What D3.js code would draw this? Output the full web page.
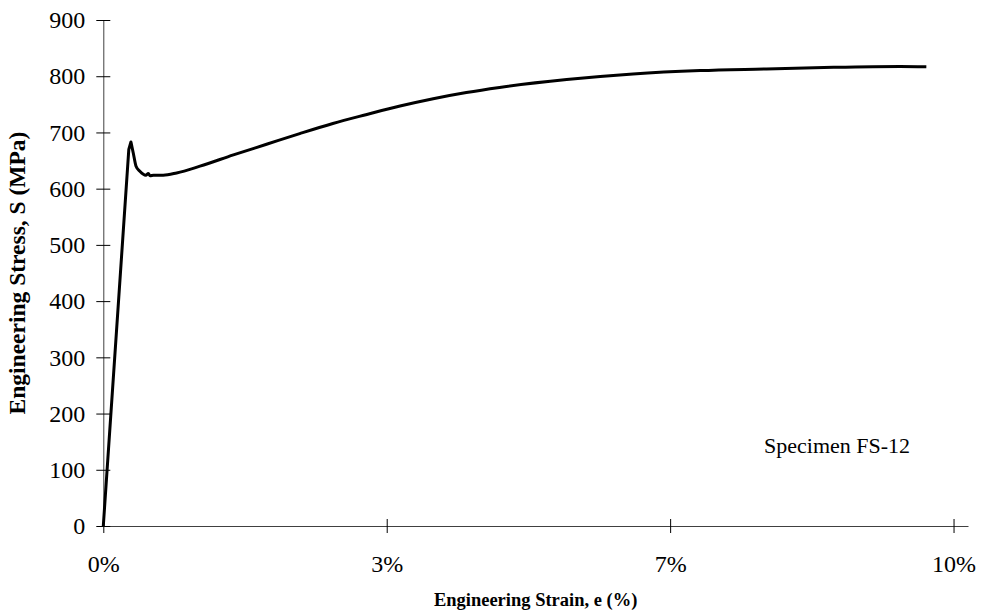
<!DOCTYPE html>
<html>
<head>
<meta charset="utf-8">
<script src="https://cdn.jsdelivr.net/npm/d3@7"></script>
<style>
  html, body { margin: 0; padding: 0; background: #fff; }
  svg text { font-family: "Liberation Serif", "Times New Roman", serif; fill: #000; }
</style>
</head>
<body>
<div id="chart"></div>
<script>
// strain in percent, stress in MPa
const strainPct = [0, 0.30, 0.325, 0.353, 0.385, 0.43, 0.50, 0.53, 0.55, 0.59, 0.705, 0.863,
  1.137, 1.53, 1.92, 2.31, 2.70, 3.10, 3.49, 3.88, 4.27, 4.66, 5.45, 6.23, 7.02, 7.80,
  8.59, 9.37, 9.68];
const stressMPa = [0, 670, 683, 663, 640, 631, 624, 627, 623, 624, 624, 628,
  640, 660, 679, 698, 716, 732, 747, 760, 771, 780, 794, 804, 810, 813,
  816, 817.5, 817];
// last index of the straight elastic part
const peakIndex = 2;

const xTicks = [0, 10 / 3, 20 / 3, 10];
const yTicks = [0, 100, 200, 300, 400, 500, 600, 700, 800, 900];

const xTitle = 'Engineering Strain, e (%)';
const yTitle = 'Engineering Stress, S (MPa)';
const note = 'Specimen FS-12';

function stressStrainChart({
  width = 984,
  height = 615,
  margin = { top: 20, right: 16, bottom: 89, left: 103.3 },
  xMax = 10.17,
  yMax = 900,
}) {
  const x = d3.scaleLinear()
    .domain([0, xMax])
    .range([margin.left, width - margin.right]);
  const y = d3.scaleLinear()
    .domain([0, yMax])
    .range([height - margin.bottom, margin.top]);

  const svg = d3.create('svg')
    .attr('viewBox', [0, 0, width, height])
    .attr('width', width)
    .attr('height', height);

  svg.append('rect')
    .attr('width', width)
    .attr('height', height)
    .attr('fill', '#fff');

  // x axis, ticks crossing the line
  const gx = svg.append('g')
    .attr('transform', `translate(0,${y(0)})`)
    .call(d3.axisBottom(x)
      .tickValues(xTicks)
      .tickFormat((d) => d3.format('.0f')(d) + '%')
      .tickSizeOuter(0));
  gx.select('.domain').attr('stroke', '#404040');
  gx.selectAll('.tick line').attr('y1', -7).attr('y2', 7).attr('stroke', '#000');
  gx.selectAll('.tick text')
    .attr('y', 29)
    .attr('font-size', 24)
    .attr('font-family', '"Liberation Serif", serif');

  // y axis
  const gy = svg.append('g')
    .attr('transform', `translate(${x(0)},0)`)
    .call(d3.axisLeft(y)
      .tickValues(yTicks)
      .tickFormat(d3.format('d'))
      .tickSizeOuter(0));
  gy.select('.domain').attr('stroke', '#404040');
  gy.selectAll('.tick line').attr('x1', -7).attr('x2', 7).attr('stroke', '#000');
  gy.selectAll('.tick text')
    .attr('x', -18)
    .attr('font-size', 24)
    .attr('font-family', '"Liberation Serif", serif');

  // the curve: straight elastic part, smooth plastic part
  const points = strainPct.map((s, i) => [s, stressMPa[i]]);
  const elastic = d3.line()
    .x((d) => x(d[0]))
    .y((d) => y(d[1]));
  const plastic = d3.line()
    .x((d) => x(d[0]))
    .y((d) => y(d[1]))
    .curve(d3.curveMonotoneX);

  svg.append('path')
    .attr('fill', 'none')
    .attr('stroke', '#000')
    .attr('stroke-width', 3)
    .attr('stroke-linejoin', 'round')
    .attr('d', elastic(points.slice(0, peakIndex + 1)) + plastic(points.slice(peakIndex)).replace(/^M[^A-Z]*/, ''));

  // titles
  svg.append('text')
    .attr('x', (margin.left + width - margin.right) / 2)
    .attr('y', 606)
    .attr('text-anchor', 'middle')
    .attr('font-weight', 'bold')
    .attr('font-size', 18.5)
    .text(xTitle);

  svg.append('text')
    .attr('transform', `translate(25,${(y(0) + y(yMax)) / 2}) rotate(-90)`)
    .attr('text-anchor', 'middle')
    .attr('font-weight', 'bold')
    .attr('font-size', 23.5)
    .text(yTitle);

  svg.append('text')
    .attr('x', x(8.63))
    .attr('y', y(130))
    .attr('text-anchor', 'middle')
    .attr('font-size', 22)
    .text(note);

  return svg;
}

const svg = stressStrainChart({});
d3.select('#chart').append(() => svg.node());
</script>
</body>
</html>
